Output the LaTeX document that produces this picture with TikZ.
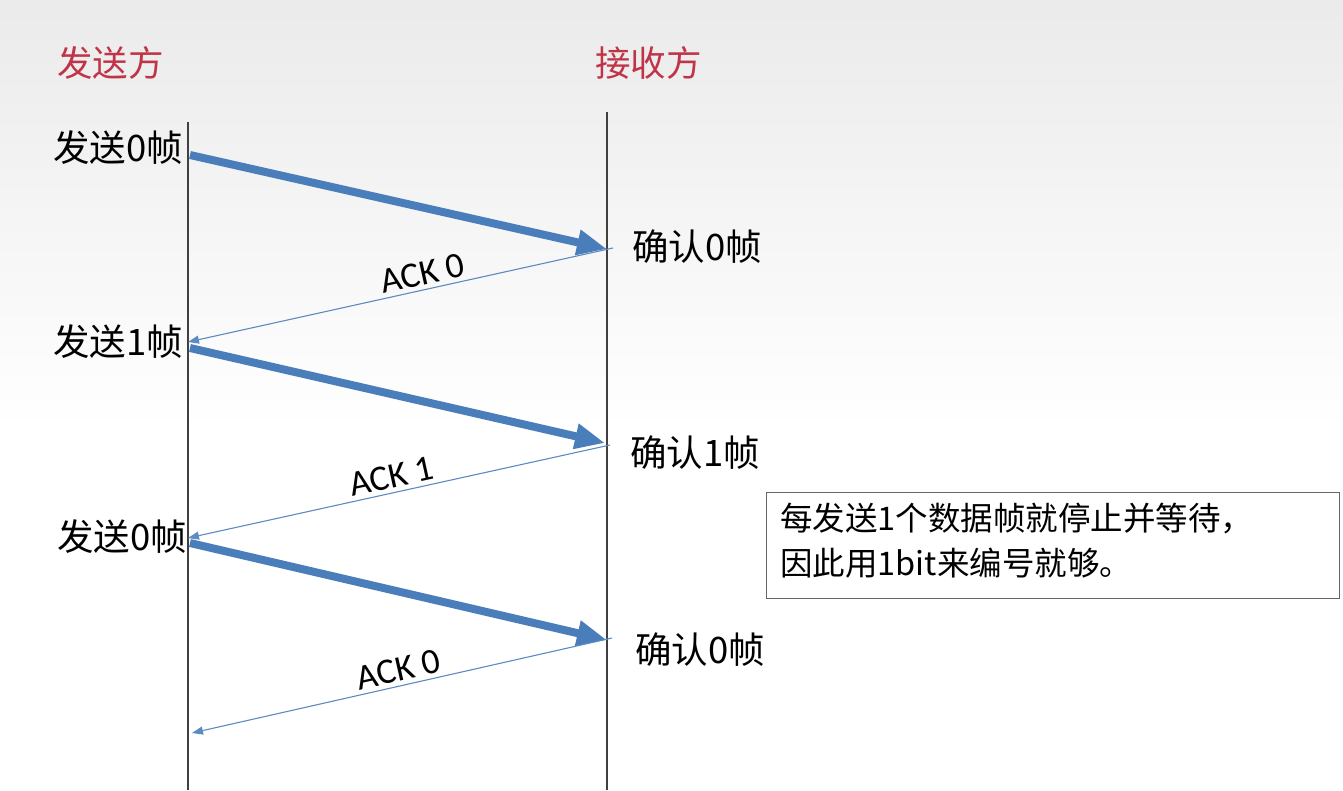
\documentclass[tikz,border=0pt]{standalone}
\usepackage{fontspec}
\setmainfont{Noto Sans CJK SC}
\newfontfamily\ackfont{Carlito}
\usepackage{tikz}
\usetikzlibrary{arrows.meta, positioning, calc}

\definecolor{framecol}{RGB}{74,126,187}
\definecolor{titlered}{RGB}{192,52,72}

\begin{document}
\begin{tikzpicture}[x=1pt, y=-1pt,
  title/.style={font=\fontsize{35.5}{36}\selectfont, text=titlered, inner sep=0pt},
  event/.style={font=\fontsize{36.5}{37}\selectfont, inner sep=0pt},
  frame/.style={-{Triangle[length=30pt, width=24pt]}, line width=8pt, draw=framecol},
  ack/.style={-{Triangle[length=11pt, width=8pt]}, line width=1.1pt, draw=framecol!90},
  acklabel/.style={font=\ackfont\fontsize{36}{36}\selectfont, sloped, above, inner sep=4pt},
  timeline/.style={line width=1.2pt, draw=black!75}
]
\useasboundingbox (0,0) rectangle (1343,790);
\fill[top color=black!8, bottom color=white] (0,0) rectangle (1343,430);
\fill[white] (0,430) rectangle (1343,790);

% titles
\node[title, anchor=west] (sender) at (57,63) {发送方};
\node[title, anchor=west] (receiver) at (595,63) {接收方};

% time lines
\coordinate (stop) at (188,122);
\coordinate (sbot) at (188,790);
\coordinate (rtop) at (607,112);
\coordinate (rbot) at (607,790);
\draw[timeline] (stop) -- (sbot);
\draw[timeline] (rtop) -- (rbot);

% points on the lines
\coordinate (s0) at (190,155);
\coordinate (r0) at (607,249);
\coordinate (r0a) at (613,248);
\coordinate (s1) at (188,342);
\coordinate (s1a) at (190,348);
\coordinate (r1) at (605,443);
\coordinate (r1a) at (610,445);
\coordinate (s2) at (188,538);
\coordinate (s2a) at (190,543);
\coordinate (r2) at (607,640);
\coordinate (r2a) at (612,638);
\coordinate (s3) at (192,733);

% labels
\node[event, anchor=east] (send0) at (183,148) {发送0帧};
\node[event, anchor=west] (recv0) at (632,247) {确认0帧};
\node[event, anchor=east] (send1) at (183,342) {发送1帧};
\node[event, anchor=west] (recv1) at (630,453) {确认1帧};
\node[event, anchor=east] (send2) at (187,537) {发送0帧};
\node[event, anchor=west] (recv2) at (635,650) {确认0帧};

% frames and acks
\draw[frame] (s0) -- (r0);
\draw[ack] (r0a) -- node[acklabel, pos=0.44] {ACK 0} (s1);
\draw[frame] (s1a) -- (r1);
\draw[ack] (r1a) -- node[acklabel, pos=0.51] {ACK 1} (s2);
\draw[frame] (s2a) -- (r2);
\draw[ack] (r2a) -- node[acklabel, pos=0.5] {ACK 0} (s3);

% note
\node[draw=black!60, line width=1.2pt, fill=white, anchor=north west,
      minimum width=573pt, minimum height=106pt, inner sep=0pt] (note) at (766,492) {};
\node[event, font=\fontsize{32.5}{45}\selectfont, align=left, anchor=north west] (notetext) at (780,503)
  {每发送1个数据帧就停止并等待，\\因此用1bit来编号就够。};
\end{tikzpicture}
\end{document}
